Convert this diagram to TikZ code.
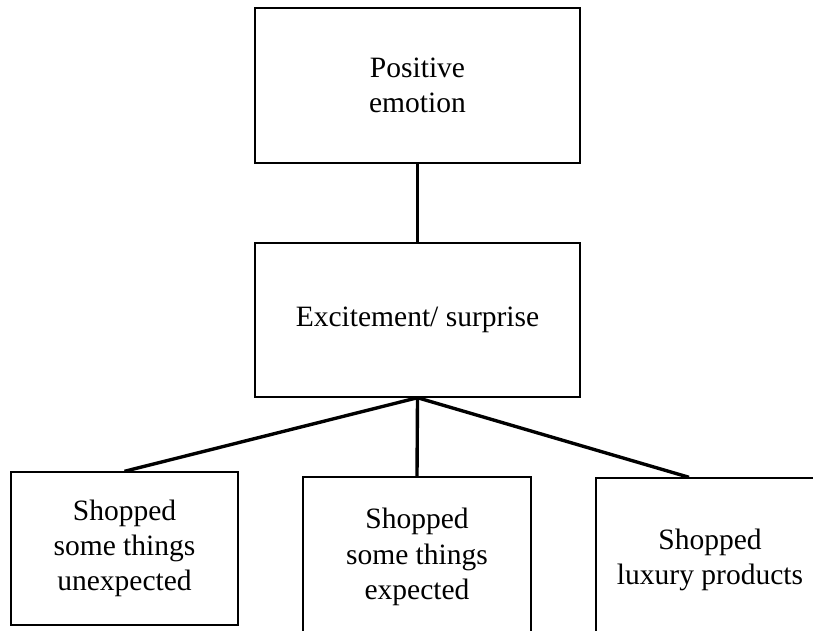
\documentclass[tikz,border=0pt]{standalone}
\usepackage{fontspec}
\setmainfont{Liberation Serif}
\usepackage{tikz}
\usetikzlibrary{positioning}

\begin{document}
\begin{tikzpicture}[
  every node/.style={font=\fontsize{21}{25}\selectfont, align=center, inner sep=4pt},
  box/.style={draw=black, line width=1pt, minimum width=8.125cm, minimum height=3.875cm},
  leaf/.style={draw=black, line width=1pt, minimum width=5.7cm, minimum height=3.9cm},
  link/.style={draw=black, line width=2.4pt},
]

\useasboundingbox (0,0) rectangle (20.325,-15.75);
\clip (0,0) rectangle (20.325,-15.75);

% Top level
\node[box] (emotion) at (10.4375,-2.1375) {Positive\\emotion};

% Middle level
\node[box, minimum height=3.85cm] (excite) at (10.4375,-8.0) {Excitement/ surprise};

% Leaves
\node[leaf, minimum width=5.675cm, minimum height=3.825cm]
      (unexp) at (3.1125,-13.7125) {Shopped\\some things\\unexpected};
\node[leaf, minimum height=4.0cm]
      (exp) at (10.425,-13.925) {Shopped\\some things\\expected};
\node[leaf, minimum height=4.1cm]
      (luxury) at (17.75,-14.0) {Shopped\\luxury products};

% Connectors
\draw[link] (emotion.south) -- (excite.north);
\draw[link] (excite.south) -- (unexp.north);
\draw[link] (excite.south) -- (exp.north);
\draw[link] (excite.south) -- ([xshift=-0.525cm]luxury.north);

\end{tikzpicture}
\end{document}
